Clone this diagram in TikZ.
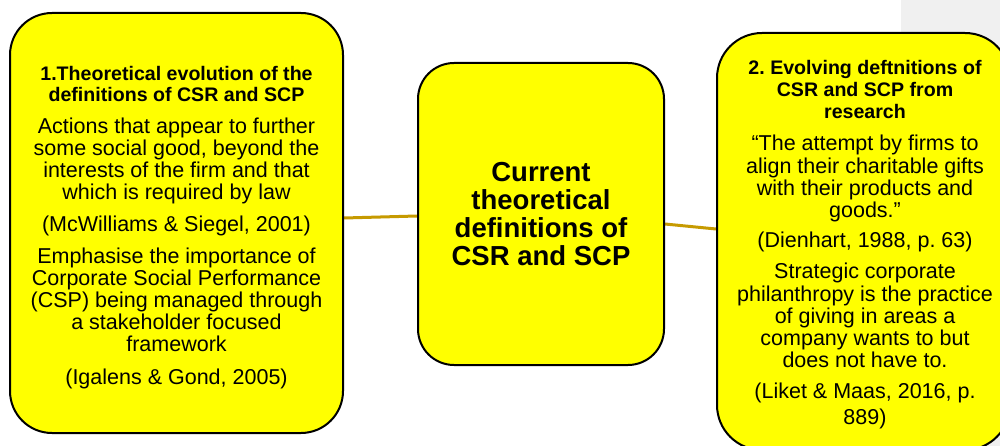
\documentclass[tikz,border=0pt]{standalone}
\usepackage{fontspec}
\setmainfont{Liberation Sans}
\usetikzlibrary{calc,backgrounds}

\definecolor{boxyellow}{RGB}{255,255,0}
\definecolor{linkgold}{RGB}{198,154,0}
\definecolor{panelgrey}{RGB}{240,240,240}

% type sizes (1pt = 1px of the finished picture); word spaces come from the font
\newcommand{\natspace}{\spaceskip=0pt\xspaceskip=0pt\frenchspacing\relax}
\newcommand{\headfont}{\fontsize{19.6}{21.9}\selectfont\bfseries\natspace}
\newcommand{\bodyfont}{\normalfont\fontsize{21.5}{22.2}\selectfont\natspace}
\newcommand{\centrefont}{\fontsize{27.5}{28}\selectfont\bfseries\natspace}

\begin{document}
\begin{tikzpicture}[x=1pt,y=-1pt,
  card/.style={draw=black, line width=2pt, fill=boxyellow, inner sep=0pt},
  cardtext/.style={align=flush center, inner sep=0pt},
  link/.style={draw=linkgold, line width=3pt}]

\clip (0,0) rectangle (1000,446);

% the three cards
\node[card, rounded corners=42pt, minimum width=333pt, minimum height=420pt] (left) at (176.5,223) {};
\node[card, rounded corners=36pt, minimum width=246pt, minimum height=302pt] (mid) at (541,214) {};
\node[card, rounded corners=45pt, minimum width=293pt, minimum height=417pt] (right) at (863.5,241.5) {};

\begin{scope}[on background layer]
  \fill[panelgrey] (901,0) rectangle (1000,446);
  \draw[link] ($(left.east)+(0,-5)$) -- ($(mid.west)+(0,2)$);
  \draw[link] ($(mid.east)+(0,10)$) -- ($(right.west)+(0,-12.5)$);
\end{scope}

% card texts
\node[cardtext, text width=330pt] (lefttext) at (176.5,227.4) {%
\headfont 1.Theoretical evolution of the\\
definitions of CSR and SCP\\[9pt]
\bodyfont Actions that appear to further\\
some social good, beyond the\\
interests of the firm and that\\
which is required by law\\[10pt]
(McWilliams \& Siegel, 2001)\\[9pt]
Emphasise the importance of\\
Corporate Social Performance\\
(CSP) being managed through\\
a stakeholder focused\\
framework\\[15.7pt]
(Igalens \& Gond, 2005)};

\node[cardtext, text width=240pt, font=\centrefont] (midtext) at (541,214) {%
Current\\
theoretical\\
definitions of\\
CSR and SCP};

\node[cardtext, text width=285pt] (righttext) at (865,245) {%
\headfont 2. Evolving deftnitions of\\
CSR and SCP from\\
research\\[10pt]
\bodyfont “The attempt by firms to\\
align their charitable gifts\\
with their products and\\
goods.”\\[8pt]
(Dienhart, 1988, p. 63)\\[9pt]
Strategic corporate\\
philanthropy is the practice\\
of giving in areas a\\
company wants to but\\
does not have to.\\[9pt]
(Liket \& Maas, 2016, p.\\[5pt]
889)};

\end{tikzpicture}
\end{document}
